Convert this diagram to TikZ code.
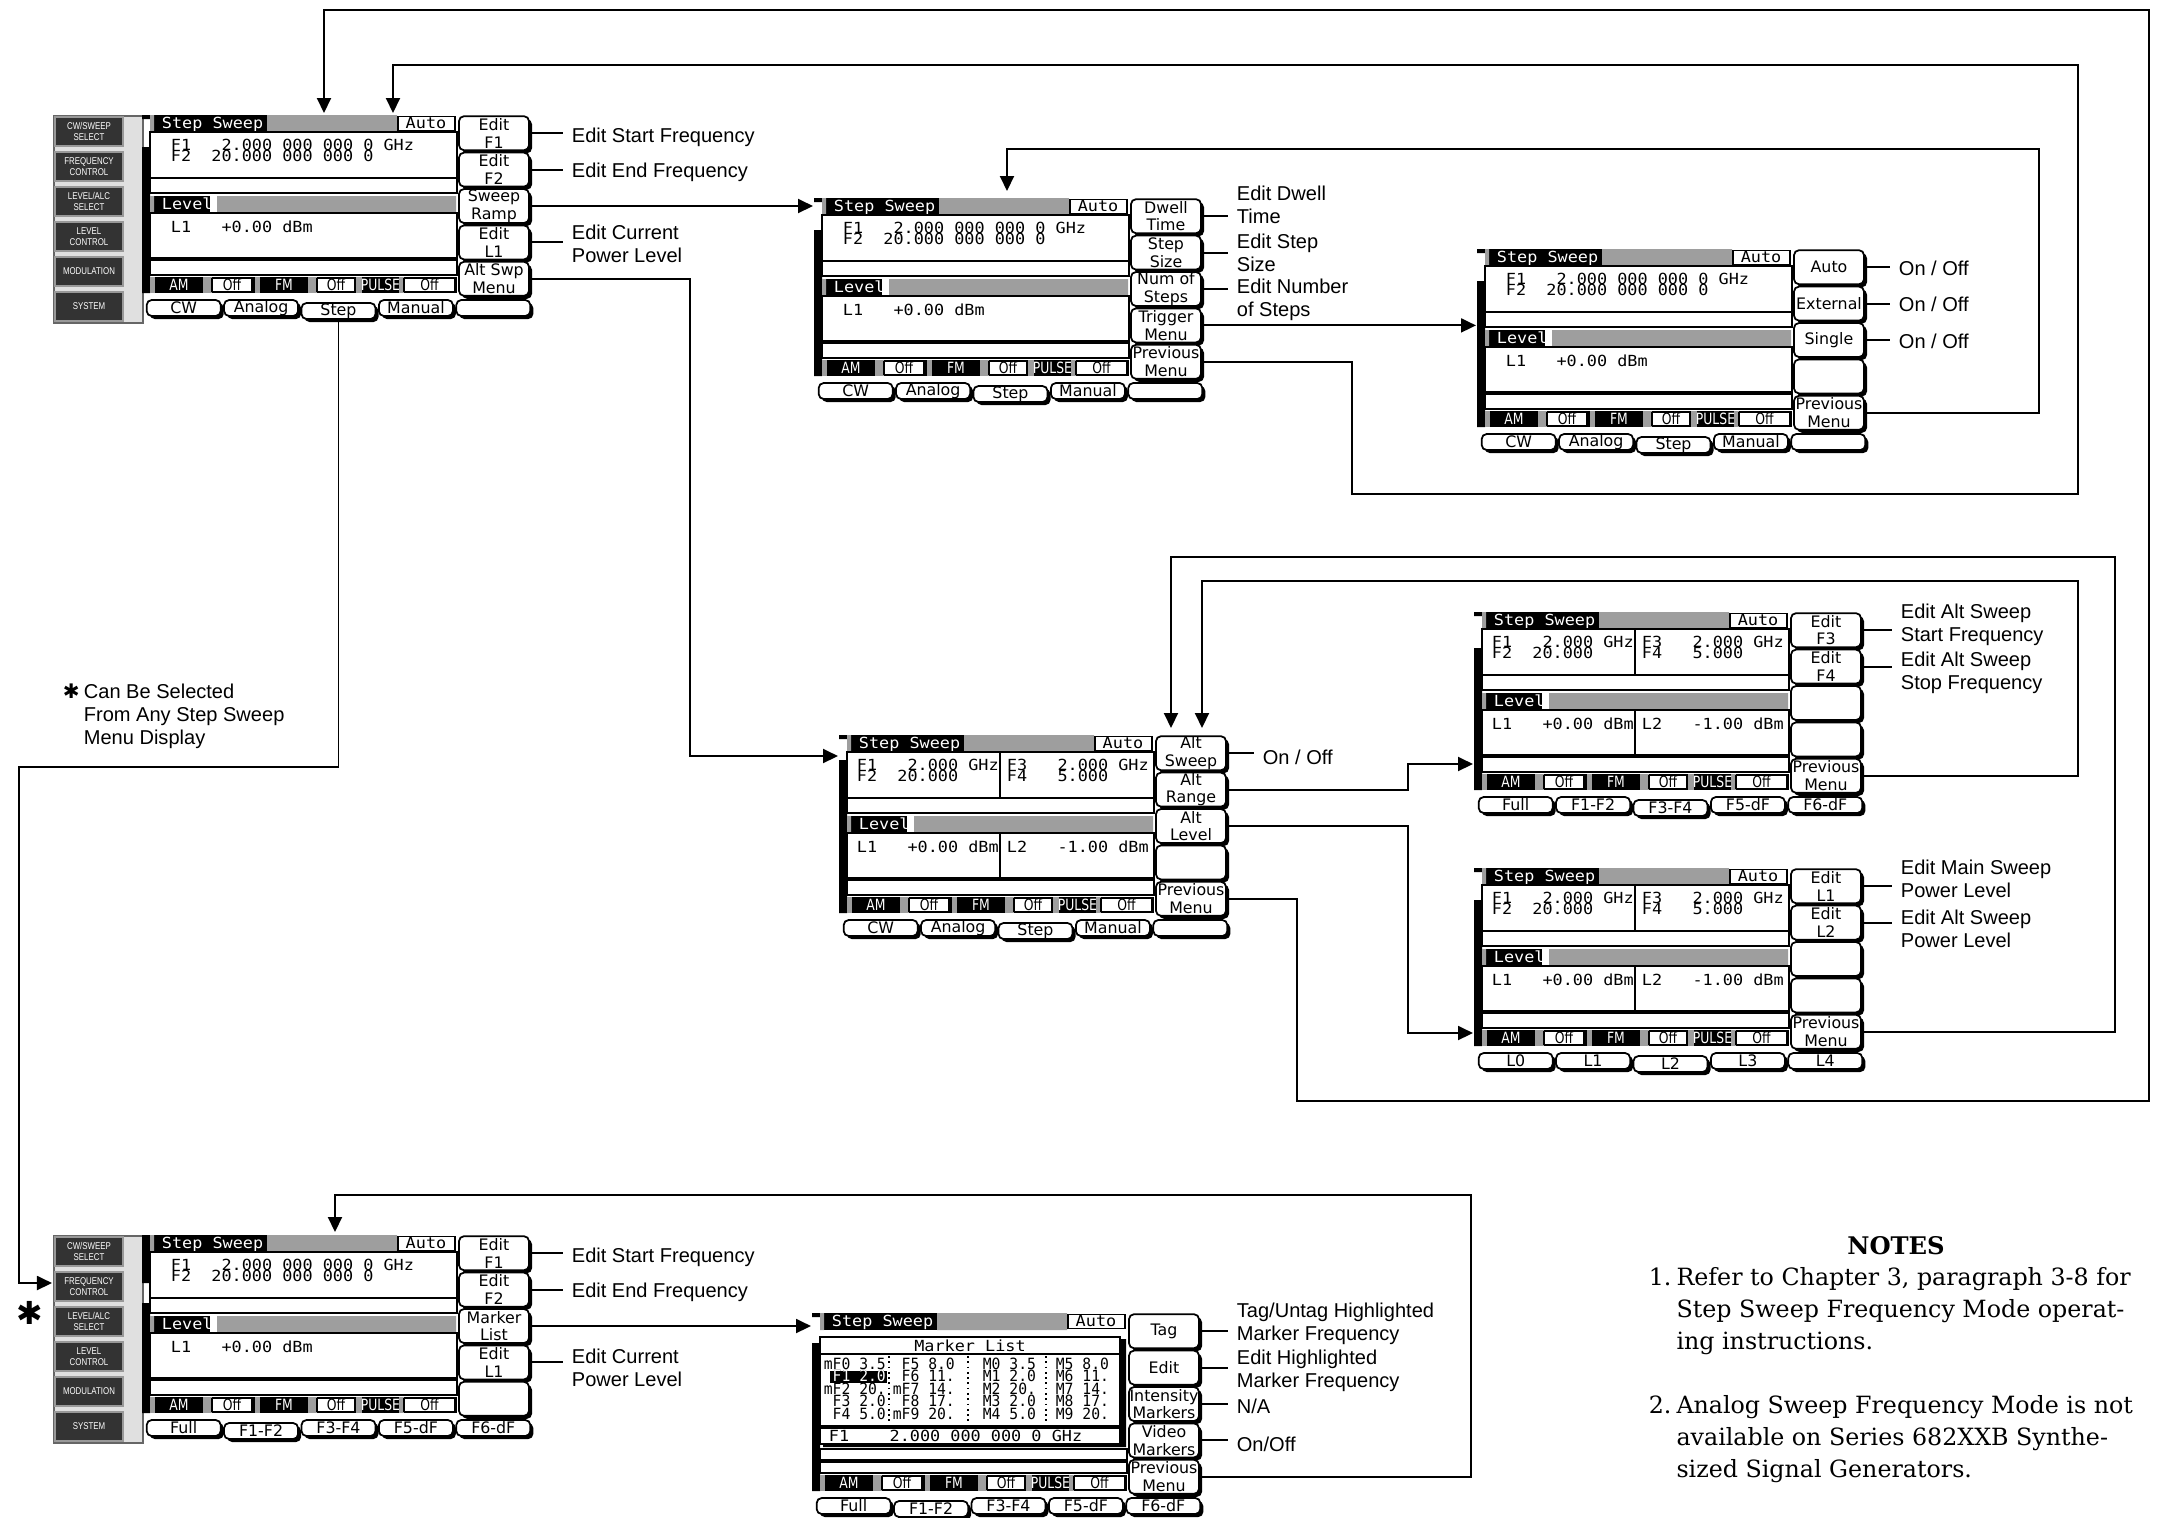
\documentclass[tikz,border=0pt]{standalone}
\usepackage{fontspec}
\usetikzlibrary{arrows.meta,shadows}
\newfontfamily\lcdfont[FakeStretch=1.1]{DejaVu Sans Mono}
\newfontfamily\tblfont[FakeStretch=0.95]{DejaVu Sans Mono}
\newfontfamily\keyfont{DejaVu Sans}
\newfontfamily\stfont[FakeStretch=0.8]{DejaVu Sans}
\newfontfamily\lblfont{Liberation Sans}
\newfontfamily\btnfont[FakeStretch=0.8]{Liberation Sans}
\newfontfamily\notefont{DejaVu Serif}
\newfontfamily\starfont{DejaVu Sans}

\tikzset{
  hatch/.style={fill=black!38},
  lcdtxt/.style={inner sep=0pt, anchor=west, text height=3.1pt, text depth=0pt,
    font=\lcdfont\fontsize{4.35}{4.35}\selectfont},
  mktxt/.style={lcdtxt, font=\tblfont\fontsize{4.4}{4.4}\selectfont},
  sttxt/.style={lcdtxt, font=\stfont\fontsize{4.4}{4.4}\selectfont},
  skey/.style={draw, fill=white, rounded corners=0.05cm, inner sep=0pt, align=center,
    minimum width=0.70cm, minimum height=0.34cm, font=\keyfont\fontsize{4.5}{5}\selectfont,
    drop shadow={shadow xshift=0.03cm, shadow yshift=-0.03cm, opacity=1, fill=black}},
  tabkey/.style={skey, minimum width=0.74cm, minimum height=0.16cm},
  btn/.style={draw=black!40, fill=black!80, text=white, inner sep=0pt, align=center,
    minimum width=0.68cm, minimum height=0.29cm, font=\btnfont\fontsize{2.8}{3}\selectfont},
  lbl/.style={anchor=west, inner xsep=0.08cm, inner ysep=0pt, align=left,
    font=\lblfont\fontsize{5.7}{6.5}\selectfont},
  link/.style={line width=0.55pt},
  arr/.style={link, -{Triangle[length=0.15cm, width=0.14cm]}}
}

% one screen: #1 name, (#2,#3) top left of title bar, #4 softkeys, #5 tabs,
% #6 selected tab, #7/#8 gap in the scroll bar
\newcommand\lcd[8]{%
  \begin{scope}[shift={(#2,#3)}]
    \node[inner sep=0pt, minimum width=3.16cm, minimum height=1.78cm, anchor=north west] (#1) at (-9,0) {};
    \fill (-8,0) rectangle (0,#7) (-8,#8) rectangle (0,178);
    % title bar
    \fill (0,0) rectangle (117,17);
    \fill[hatch] (0,0) rectangle (4,17) (117,0) rectangle (247,17);
    \node[lcdtxt, text=white] (#1-title) at (11,8.5) {Step Sweep};
    \draw[fill=white] (248,1.5) rectangle (305,15.5);
    \node[lcdtxt, anchor=center] (#1-auto) at (276,8.5) {Auto};
    % level bar
    \fill (0,81) rectangle (60,98);
    \fill[hatch] (0,81) rectangle (4,98) (67,81) rectangle (306,98);
    \node[lcdtxt, text=white] (#1-level) at (11,89.5) {Level};
    % status bar
    \fill (0,162) rectangle (307,178);
    \foreach \lo/\hi in {0/5, 53/62, 105/110, 158/167, 206/212, 249/254}
      \fill[hatch] (\lo,162) rectangle (\hi,178);
    \foreach \lab/\xx [count=\i] in {AM/29, FM/134, PULSE/230.5}
      \node[sttxt, anchor=center, text=white] (#1-mod\i) at (\xx,170) {\lab};
    \foreach \lo/\hi [count=\i] in {62/102, 167/205, 254/305} {
      \draw[fill=white] (\lo,163.5) rectangle (\hi,176.5);
      \node[sttxt, anchor=center] (#1-off\i) at ({(\lo+\hi)/2},170) {Off};
    }
    % softkeys and tabs
    \foreach \lab [count=\i] in {#4}
      \node[skey] (#1-k\i) at (344,{18.2+36.4*(\i-1)}) {\lab};
    \foreach \lab [count=\i] in {#5} {
      \ifnum\i=#6 \def\ty{196}\else\def\ty{193}\fi
      \node[tabkey] (#1-t\i) at ({33.7+77.4*(\i-1)},\ty) {\lab};
    }
  \end{scope}}

% front panel keys left of a screen
\newcommand\btnpanel[3]{%
  \begin{scope}[shift={(#2,#3)}]
    \node[draw=black!60, fill=black!12, inner sep=0pt, minimum width=0.89cm,
      minimum height=2.07cm, anchor=north west] (#1) at (-97,0) {};
    \foreach \lab [count=\i] in {CW/SWEEP\\SELECT, FREQUENCY\\CONTROL, LEVEL/ALC\\SELECT,
        LEVEL\\CONTROL, MODULATION, SYSTEM}
      \node[btn] (#1-b\i) at (-61,{16.5+35*(\i-1)}) {\lab};
  \end{scope}}

% frequency and level panes
\newcommand\mainvals[3]{%
  \begin{scope}[shift={(#2,#3)}]
    \draw (0,17) rectangle (307,63) (0,63) rectangle (307,78)
      (0,98) rectangle (307,143) (0,145) rectangle (307,160);
    \node[lcdtxt] (#1-f1) at (20,30) {F1~~~2.000~000~000~0~GHz};
    \node[lcdtxt] (#1-f2) at (20,41.5) {F2~~20.000~000~000~0};
    \node[lcdtxt] (#1-l1) at (20,112) {L1~~~+0.00~dBm};
  \end{scope}}
\newcommand\altvals[3]{%
  \begin{scope}[shift={(#2,#3)}]
    \draw (0,17) rectangle (307,63) (0,63) rectangle (307,78)
      (0,98) rectangle (307,143) (0,145) rectangle (307,160)
      (153,17) -- (153,63) (153,98) -- (153,143);
    \node[lcdtxt] (#1-f1) at (9,30) {F1~~~2.000~GHz};
    \node[lcdtxt] (#1-f2) at (9,41.5) {F2~~20.000};
    \node[lcdtxt] (#1-f3) at (159,30) {F3~~~2.000~GHz};
    \node[lcdtxt] (#1-f4) at (159,41.5) {F4~~~5.000};
    \node[lcdtxt] (#1-l1) at (9,112) {L1~~~+0.00~dBm};
    \node[lcdtxt] (#1-l2) at (159,112) {L2~~~-1.00~dBm};
  \end{scope}}

\begin{document}
\begin{tikzpicture}[x=0.01cm, y=-0.01cm, line width=0.5pt]
  \useasboundingbox (0,0) rectangle (2163,1517);

  % step sweep menu
  \btnpanel{s1p}{150}{115}
  \lcd{s1}{150}{115}{Edit\\F1, Edit\\F2, Sweep\\Ramp, Edit\\L1, Alt Swp\\Menu}{CW, Analog, Step, Manual, {}}{3}{4}{32}
  \mainvals{s1}{150}{115}
  % sweep ramp menu
  \lcd{s2}{822}{198}{Dwell\\Time, Step\\Size, Num of\\Steps, Trigger\\Menu, Previous\\Menu}{CW, Analog, Step, Manual, {}}{3}{4}{32}
  \mainvals{s2}{822}{198}
  % trigger menu
  \lcd{s3}{1485}{249}{Auto, External, Single, {}, Previous\\Menu}{CW, Analog, Step, Manual, {}}{3}{4}{32}
  \mainvals{s3}{1485}{249}
  % alternate sweep menus
  \lcd{s4}{847}{735}{Alt\\Sweep, Alt\\Range, Alt\\Level, {}, Previous\\Menu}{CW, Analog, Step, Manual, {}}{3}{4}{25}
  \altvals{s4}{847}{735}
  \lcd{s5}{1482}{612}{Edit\\F3, Edit\\F4, {}, {}, Previous\\Menu}{Full, F1-F2, F3-F4, F5-dF, F6-dF}{3}{4}{36}
  \altvals{s5}{1482}{612}
  \lcd{s6}{1482}{868}{Edit\\L1, Edit\\L2, {}, {}, Previous\\Menu}{L0, L1, L2, L3, L4}{3}{4}{32}
  \altvals{s6}{1482}{868}
  % marker list menus
  \btnpanel{s7p}{150}{1235}
  \lcd{s7}{150}{1235}{Edit\\F1, Edit\\F2, Marker\\List, Edit\\L1, {}}{Full, F1-F2, F3-F4, F5-dF, F6-dF}{2}{48}{68}
  \mainvals{s7}{150}{1235}
  \lcd{s8}{820}{1313}{Tag, Edit, Intensity\\Markers, Video\\Markers, Previous\\Menu}{Full, F1-F2, F3-F4, F5-dF, F6-dF}{2}{4}{30}
  \begin{scope}[shift={(820,1313)}]
    \fill (300,26) rectangle (306,134) (3,131) rectangle (306,134);
    \draw[fill=white] (0,24) rectangle (300,41) (0,41) rectangle (300,113) (0,115) rectangle (300,131);
    \node[lcdtxt, anchor=center] (s8-head) at (150,33) {Marker List};
    \draw[densely dotted] (69,43) -- (69,111) (148,43) -- (148,111) (226,43) -- (226,111);
    \fill (10,57.5) rectangle (67,69.5);
    \foreach \ma/\mb/\mc/\md [count=\i] in {mF0~3.5/~F5~8.0/M0~3.5/M5~8.0, ~F1~2.0/~F6~11./M1~2.0/M6~11.,
        mF2~20./mF7~14./M2~20./M7~14., ~F3~2.0/~F8~17./M3~2.0/M8~17., ~F4~5.0/mF9~20./M4~5.0/M9~20.} {
      \node[mktxt] (s8-a\i) at (3,{51+12.5*(\i-1)}) {\ma};
      \node[mktxt] (s8-b\i) at (72,{51+12.5*(\i-1)}) {\mb};
      \node[mktxt] (s8-c\i) at (162,{51+12.5*(\i-1)}) {\mc};
      \node[mktxt] (s8-d\i) at (235,{51+12.5*(\i-1)}) {\md};
    }
    \node[mktxt, text=white] (s8-sel) at (3,63.5) {~F1~2.0};
    \node[lcdtxt] (s8-f1) at (8,123) {F1~~~~2.000~000~000~0~GHz};
    \draw (0,136) rectangle (307,147) (0,149) rectangle (307,160);
  \end{scope}

  % softkey callouts
  \foreach \key/\yy/\txt [count=\i] in {1/137/Edit Start Frequency, 2/172/Edit End Frequency, 4/244/{Edit Current\\Power Level}} {
    \node[lbl] (s1-n\i) at (563,\yy) {\txt};
    \draw[link] (s1-k\key.east) -- (s1-k\key.east -| s1-n\i.west);
  }
  \foreach \key/\yy/\txt [count=\i] in {1/205/{Edit Dwell\\Time}, 2/253/{Edit Step\\Size}, 3/300/{Edit Number\\of Steps}} {
    \node[lbl] (s2-n\i) at (1228,\yy) {\txt};
    \draw[link] (s2-k\key.east) -- (s2-k\key.east -| s2-n\i.west);
  }
  \foreach \key/\yy/\txt [count=\i] in {1/268/{On / Off}, 2/304/{On / Off}, 3/341/{On / Off}} {
    \node[lbl] (s3-n\i) at (1890,\yy) {\txt};
    \draw[link] (s3-k\key.east) -- (s3-k\key.east -| s3-n\i.west);
  }
  \foreach \key/\yy/\txt [count=\i] in {1/757/{On / Off}} {
    \node[lbl] (s4-n\i) at (1254,\yy) {\txt};
    \draw[link] (s4-k\key.east) -- (s4-k\key.east -| s4-n\i.west);
  }
  \foreach \key/\yy/\txt [count=\i] in {1/625/{Edit Alt Sweep\\Start Frequency}, 2/673/{Edit Alt Sweep\\Stop Frequency}} {
    \node[lbl] (s5-n\i) at (1892,\yy) {\txt};
    \draw[link] (s5-k\key.east) -- (s5-k\key.east -| s5-n\i.west);
  }
  \foreach \key/\yy/\txt [count=\i] in {1/879/{Edit Main Sweep\\Power Level}, 2/929/{Edit Alt Sweep\\Power Level}} {
    \node[lbl] (s6-n\i) at (1892,\yy) {\txt};
    \draw[link] (s6-k\key.east) -- (s6-k\key.east -| s6-n\i.west);
  }
  \foreach \key/\yy/\txt [count=\i] in {1/1257/Edit Start Frequency, 2/1292/Edit End Frequency, 4/1368/{Edit Current\\Power Level}} {
    \node[lbl] (s7-n\i) at (563,\yy) {\txt};
    \draw[link] (s7-k\key.east) -- (s7-k\key.east -| s7-n\i.west);
  }
  \foreach \key/\yy/\txt [count=\i] in {1/1324/{Tag/Untag Highlighted\\Marker Frequency}, 2/1371/{Edit Highlighted\\Marker Frequency}, 3/1406/{N/A}, 4/1444/{On/Off}} {
    \node[lbl] (s8-n\i) at (1228,\yy) {\txt};
    \draw[link] (s8-k\key.east) -- (s8-k\key.east -| s8-n\i.west);
  }

  % menu links
  \coordinate (s1-in1) at (324,113);
  \coordinate (s1-in2) at (393,113);
  \coordinate (s2-in) at (1007,191);
  \coordinate (s4-in) at (838,756);
  \coordinate (s4-in1) at (1171,728);
  \coordinate (s4-in2) at (1202,728);
  \coordinate (s5-in) at (1473,764);
  \coordinate (s6-in) at (1473,1033);
  \coordinate (s7-in) at (335,1232);
  \coordinate (s7-in2) at (52,1283);
  \draw[arr] (s1-k3.east) -- (s1-k3.east -| s2.west);
  \draw[arr] (s1-k5.east) -| (690,756) -- (s4-in);
  \draw[arr] (s1-t3.south) |- (19,767) |- (s7-in2);
  \draw[arr] (s2-k4.east) -- (s2-k4.east -| s3.west);
  \draw[arr] (s2-k5.east) -| (1352,494) -| (2078,65) -| (s1-in2);
  \draw[arr] (s3-k5.east) -| (2039,149) -| (s2-in);
  \draw[arr] (s4-k2.east) -| (1408,764) -- (s5-in);
  \draw[arr] (s4-k3.east) -| (1408,1033) -- (s6-in);
  \draw[arr] (s4-k5.east) -| (1297,1101) -| (2149,10) -| (s1-in1);
  \draw[arr] (s5-k5.east) -| (2078,581) -| (s4-in2);
  \draw[arr] (s6-k5.east) -| (2115,557) -| (s4-in1);
  \draw[arr] (s7-k3.east) -- (s7-k3.east -| s8.west);
  \draw[arr] (s8-k5.east) -| (1471,1195) -| (s7-in);

  % notes
  \node[lbl, anchor=north west, inner xsep=0pt] (anynote) at (62,683)
    {\makebox[0.21cm][l]{\starfont ✱}Can Be Selected\\\hspace*{0.21cm}From Any Step Sweep\\\hspace*{0.21cm}Menu Display};
  \node (star) at (30,1313) {\starfont\fontsize{9}{9}\selectfont ✱};
  \node[font=\notefont\bfseries\fontsize{6.9}{9}\selectfont] (notes-h) at (1896,1246) {NOTES};
  \node[anchor=north west, inner sep=0pt, font=\notefont\fontsize{6.75}{9.1}\selectfont] (notes) at (1648,1262) {%
    \begin{tabular}{@{}r@{\hspace{0.05cm}}l@{}}
      1. & Refer to Chapter 3, paragraph 3-8 for\\
         & Step Sweep Frequency Mode operat-\\
         & ing instructions.\\[9.1pt]
      2. & Analog Sweep Frequency Mode is not\\
         & available on Series 682XXB Synthe-\\
         & sized Signal Generators.
    \end{tabular}};
\end{tikzpicture}
\end{document}
